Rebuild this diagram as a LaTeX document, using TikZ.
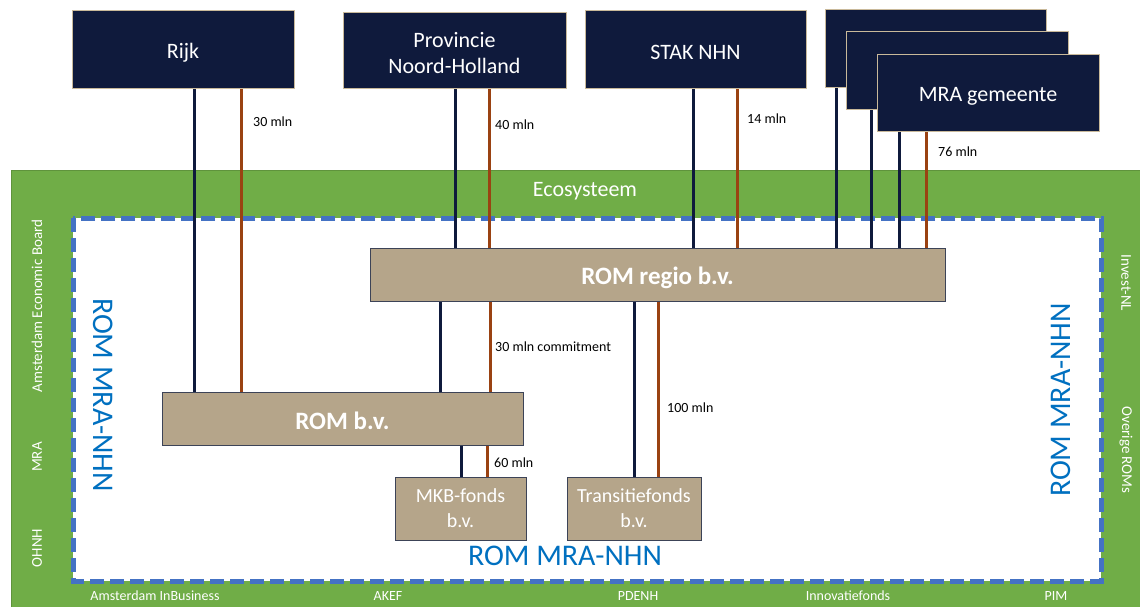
\documentclass[tikz,border=0pt]{standalone}
\usepackage{fontspec}
\setmainfont{Carlito}
\definecolor{navy}{HTML}{0F1A3C}
\definecolor{brn}{HTML}{9A4212}
\definecolor{grn}{HTML}{70AD47}
\definecolor{dblue}{HTML}{4472C4}
\definecolor{tblue}{HTML}{0070C0}
\definecolor{tanfill}{HTML}{B5A58A}
\definecolor{tanedge}{HTML}{C9B99A}
\newcommand{\dn}[2]{\raisebox{-#1pt}[\height][\depth]{#2}}
\begin{document}
\begin{tikzpicture}[x=1pt,y=-1pt,
  topbox/.style={draw=tanedge, line width=1pt, fill=navy, text=white, inner sep=0pt, align=center, font=\fontsize{22}{26}\selectfont},
  tanbox/.style={draw=navy!60!gray, line width=1pt, fill=tanfill, text=white, inner sep=0pt, align=center},
  navyline/.style={draw=navy, line width=3pt},
  brnline/.style={draw=brn, line width=3pt},
  amt/.style={anchor=west, inner sep=0pt, font=\fontsize{14}{16}\selectfont, text=black},
  sidelbl/.style={text=white, inner sep=0pt, font=\fontsize{15}{17}\selectfont},
  botlbl/.style={text=white, inner sep=0pt, font=\fontsize{14}{16}\selectfont},
  romlbl/.style={text=tblue, inner sep=0pt, font=\fontsize{30}{34}\selectfont}]
\useasboundingbox (0,0) rectangle (1140,607);
% ecosystem
\fill[grn] (11,170) rectangle (1140,607);
\draw[grn!85!black, line width=0.8pt] (11,607) -- (11,170) -- (1140,170);
\draw[dblue, fill=white, line width=5pt, dash pattern=on 14pt off 6pt] (73,218) rectangle (1101,581);
\node[text=white, font=\fontsize{22}{26}\selectfont] (eco) at (585,191) {Ecosysteem};
% side labels
\node[sidelbl, rotate=90] (aeb) at (37,306) {Amsterdam Economic Board};
\node[sidelbl, rotate=90] (mra) at (37,457) {MRA};
\node[sidelbl, rotate=90] (ohnh) at (37,548) {OHNH};
\node[sidelbl, rotate=-90] (inl) at (1126,283) {Invest-NL};
\node[sidelbl, rotate=-90] (orom) at (1126,450) {Overige ROMs};
\node[botlbl] (aib) at (155,596) {Amsterdam InBusiness};
\node[botlbl] (akef) at (388,596) {AKEF};
\node[botlbl] (pdenh) at (638,596) {PDENH};
\node[botlbl] (innov) at (848,596) {Innovatiefonds};
\node[botlbl] (pim) at (1056,596) {PIM};
% ROM labels
\node[romlbl, rotate=-90] (romL) at (103,395) {ROM MRA-NHN};
\node[romlbl, rotate=90] (romR) at (1061,400) {ROM MRA-NHN};
\node[romlbl] (romB) at (565,556) {ROM MRA-NHN};
% boxes
\node[topbox, minimum width=222pt, minimum height=78pt] (rijk) at (183,50) {\dn{3}{Rijk}};
\node[topbox, minimum width=223pt, minimum height=76pt] (prov) at (454.5,51) {\dn{2}{Provincie}\\\dn{2}{Noord-Holland}};
\node[topbox, minimum width=221pt, minimum height=78pt] (stak) at (695.5,50) {\dn{2}{STAK NHN}};
\node[topbox, minimum width=221pt, minimum height=78pt] (mra1) at (935.5,49) {};
\node[topbox, minimum width=222pt, minimum height=78pt] (mra2) at (957,71) {};
\node[topbox, minimum width=222pt, minimum height=77pt] (mra3) at (988,93.5) {\dn{3}{MRA gemeente}};
\node[tanbox, minimum width=575pt, minimum height=53pt, font=\bfseries\fontsize{25}{28}\selectfont] (regio) at (657.5,274.5) {\dn{3}{ROM regio b.v.}};
\node[tanbox, minimum width=361pt, minimum height=53pt, font=\bfseries\fontsize{25}{28}\selectfont] (rombv) at (342.5,418.5) {\dn{2}{ROM b.v.}};
\node[tanbox, minimum width=131pt, minimum height=63pt, font=\fontsize{20}{25}\selectfont] (mkb) at (460.5,508.5) {MKB-fonds\\b.v.};
\node[tanbox, minimum width=134pt, minimum height=63pt, font=\fontsize{20}{25}\selectfont] (trans) at (634,508.5) {Transitiefonds\\b.v.};
% x positions
\coordinate (a1) at (194,0); \coordinate (b1) at (241,0);
\coordinate (a2) at (455,0); \coordinate (b2) at (489,0);
\coordinate (a3) at (693,0); \coordinate (b3) at (737,0);
\coordinate (a4) at (836,0); \coordinate (a5) at (871,0); \coordinate (a6) at (899,0); \coordinate (b4) at (926,0);
\coordinate (a7) at (440,0); \coordinate (b7) at (490,0);
\coordinate (a8) at (634,0); \coordinate (b8) at (658,0);
\coordinate (a9) at (461,0); \coordinate (b9) at (487,0);
% connectors
\draw[navyline] (rijk.south -| a1) -- (rombv.north -| a1);
\draw[brnline] (rijk.south -| b1) -- (rombv.north -| b1);
\draw[navyline] (prov.south -| a2) -- (regio.north -| a2);
\draw[brnline] (prov.south -| b2) -- (regio.north -| b2);
\draw[navyline] (stak.south -| a3) -- (regio.north -| a3);
\draw[brnline] (stak.south -| b3) -- (regio.north -| b3);
\draw[navyline] (mra1.south -| a4) -- (regio.north -| a4);
\draw[navyline] (mra2.south -| a5) -- (regio.north -| a5);
\draw[navyline] (mra3.south -| a6) -- (regio.north -| a6);
\draw[brnline] (mra3.south -| b4) -- (regio.north -| b4);
\draw[navyline] (regio.south -| a7) -- (rombv.north -| a7);
\draw[brnline] (regio.south -| b7) -- (rombv.north -| b7);
\draw[navyline] (regio.south -| a8) -- (trans.north -| a8);
\draw[brnline] (regio.south -| b8) -- (trans.north -| b8);
\draw[navyline] (rombv.south -| a9) -- (mkb.north -| a9);
\draw[brnline] (rombv.south -| b9) -- (mkb.north -| b9);
% amounts
\node[amt] (l1) at (253,122) {30 mln};
\node[amt] (l2) at (495,125) {40 mln};
\node[amt] (l3) at (747,119) {14 mln};
\node[amt] (l4) at (938,152) {76 mln};
\node[amt] (l5) at (495,347) {30 mln commitment};
\node[amt] (l6) at (667,408) {100 mln};
\node[amt] (l7) at (494,463) {60 mln};
\end{tikzpicture}
\end{document}
